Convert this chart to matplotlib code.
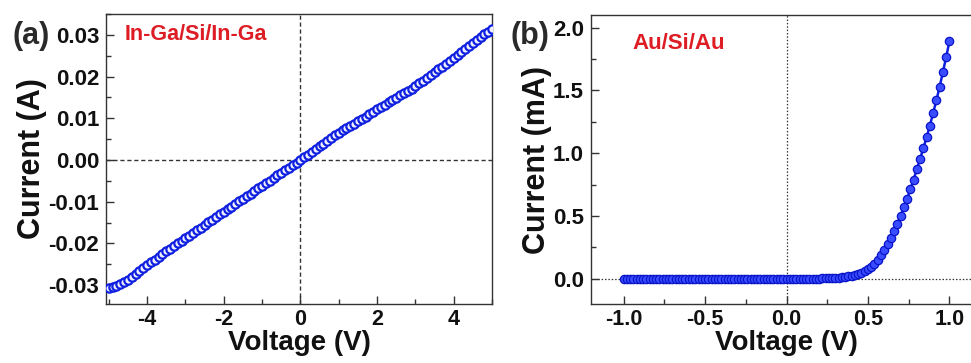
import numpy as np
import matplotlib
matplotlib.use("Agg")
import matplotlib.pyplot as plt
from matplotlib.ticker import MultipleLocator, FormatStrFormatter

plt.rcParams['font.family'] = ['Liberation Sans', 'DejaVu Sans']
plt.rcParams['font.weight'] = 'bold'

# ---------------- data ----------------
# panel (a): In-Ga/Si/In-Ga, sweep -5 V .. 5 V, 0.1 V step
volt_a = np.round(np.linspace(-5.0, 5.0, 101), 2)
current_a = [
    -0.0306, -0.0305, -0.0302, -0.0298, -0.0293, -0.0287, -0.0280, -0.0273, -0.0266, -0.0259,
    -0.0252, -0.0245, -0.0239, -0.0232, -0.0226, -0.0219, -0.0213, -0.0206, -0.0200, -0.0193,
    -0.0187, -0.0181, -0.0174, -0.0168, -0.0162, -0.0155, -0.0149, -0.0143, -0.0137, -0.0130,
    -0.0124, -0.0118, -0.0112, -0.0106, -0.0099, -0.0093, -0.0087, -0.0081, -0.0074, -0.0068,
    -0.0062, -0.0056, -0.0050, -0.0043, -0.0037, -0.0031, -0.0025, -0.0018, -0.0012, -0.0006,
    0.0000,
    0.0007, 0.0013, 0.0020, 0.0026, 0.0033, 0.0039, 0.0046, 0.0052, 0.0059, 0.0065,
    0.0071, 0.0076, 0.0082, 0.0087, 0.0093, 0.0099, 0.0104, 0.0110, 0.0116, 0.0122,
    0.0127, 0.0133, 0.0138, 0.0144, 0.0149, 0.0155, 0.0160, 0.0166, 0.0171, 0.0177,
    0.0184, 0.0190, 0.0197, 0.0204, 0.0211, 0.0217, 0.0224, 0.0231, 0.0238, 0.0245,
    0.0252, 0.0259, 0.0266, 0.0273, 0.0280, 0.0287, 0.0294, 0.0301, 0.0308, 0.0315,
]

# panel (b): Au/Si/Au, sweep -1 V .. 1 V, 0.02 V step (current in mA)
volt_b = np.round(np.linspace(-1.0, 1.0, 101), 3)
current_b = [0.0] * 51 + [
    0.000, 0.000, 0.000, 0.001, 0.001, 0.001, 0.001, 0.002, 0.002, 0.002,
    0.003, 0.004, 0.005, 0.006, 0.008, 0.010, 0.013, 0.016, 0.020, 0.025,
    0.031, 0.039, 0.048, 0.061, 0.077, 0.097, 0.122, 0.154, 0.189, 0.229,
    0.277, 0.325, 0.377, 0.436, 0.502, 0.569, 0.636, 0.715, 0.787, 0.875,
    0.955, 1.040, 1.127, 1.220, 1.320, 1.420, 1.530, 1.645, 1.765, 1.890,
]

label_a = "In-Ga/Si/In-Ga"
label_b = "Au/Si/Au"

# ---------------- figure ----------------
W, H = 971, 363
fig = plt.figure(figsize=(W / 100, H / 100), dpi=100)

def frac(x0, y0, x1, y1):
    return [x0 / W, 1 - y1 / H, (x1 - x0) / W, (y1 - y0) / H]

ax1 = fig.add_axes(frac(106, 14, 492, 304))
ax2 = fig.add_axes(frac(591, 15, 982, 304))

spine_c = '#333333'
txt_c = '#111111'
blue = '#1020e0'

for ax in (ax1, ax2):
    for s in ax.spines.values():
        s.set_color(spine_c)
        s.set_linewidth(1.0)
    ax.tick_params(which='both', direction='in', top=False, right=False,
                   colors=spine_c, labelcolor=txt_c, labelsize=16, width=1.0)
    ax.tick_params(which='major', length=6)
    ax.tick_params(which='minor', length=3.5)
    ax.tick_params(axis='x', pad=3.5, labelsize=15.5)
    ax.tick_params(axis='y', pad=5)
    for lab in ax.get_xticklabels() + ax.get_yticklabels():
        lab.set_fontweight('bold')

# panel (a)
ax1.axhline(0, color='#333333', lw=1.0, ls=(0, (3, 2)), zorder=1)
ax1.axvline(0, color='#333333', lw=1.0, ls=(0, (3, 2)), zorder=1)
ax1.plot(volt_a, current_a, ls='-', color=blue, lw=1.5, marker='o', ms=6,
         mfc='#eef0ff', mec=blue, mew=1.6, zorder=3)
ax1.set_xlim(-5.07, 5.0)
ax1.set_ylim(-0.0345, 0.035)
ax1.xaxis.set_major_locator(MultipleLocator(2))
ax1.xaxis.set_minor_locator(MultipleLocator(1))
ax1.yaxis.set_major_locator(MultipleLocator(0.01))
ax1.yaxis.set_minor_locator(MultipleLocator(0.005))
ax1.xaxis.set_major_formatter(FormatStrFormatter('%d'))
ax1.yaxis.set_major_formatter(FormatStrFormatter('%.2f'))
ax1.set_xlabel('Voltage (V)', fontsize=20, fontweight='bold', color=txt_c, labelpad=0)
ax1.set_ylabel('Current (A)', fontsize=22, fontweight='bold', color=txt_c, labelpad=1)
ax1.text(0.048, 0.928, label_a, transform=ax1.transAxes, color='#dd1c24',
         fontsize=15.5, fontweight='bold', va='center', ha='left')
fig.text(12 / W, 1 - 36 / H, '(a)', fontsize=22, fontweight='bold', color='#2a2a2a',
         va='center', ha='left')

# panel (b)
ax2.axhline(0, color='#333333', lw=0.9, ls=(0, (1.2, 1.5)), zorder=1)
ax2.axvline(0, color='#333333', lw=0.9, ls=(0, (1.2, 1.5)), zorder=1)
ax2.plot(volt_b, current_b, ls='-', color=blue, lw=1.8, marker='o', ms=6,
         mfc='#3a4cff', mec='#0a14c8', mew=0.9, zorder=3)
ax2.set_xlim(-1.2, 1.2)
ax2.set_ylim(-0.2, 2.1)
ax2.xaxis.set_major_locator(MultipleLocator(0.5))
ax2.xaxis.set_minor_locator(MultipleLocator(0.25))
ax2.yaxis.set_major_locator(MultipleLocator(0.5))
ax2.yaxis.set_minor_locator(MultipleLocator(0.25))
ax2.xaxis.set_major_formatter(FormatStrFormatter('%.1f'))
ax2.yaxis.set_major_formatter(FormatStrFormatter('%.1f'))
ax2.set_xlabel('Voltage (V)', fontsize=20, fontweight='bold', color=txt_c, labelpad=0)
ax2.set_ylabel('Current (mA)', fontsize=22, fontweight='bold', color=txt_c, labelpad=1)
ax2.text(0.105, 0.9, label_b, transform=ax2.transAxes, color='#dd1c24',
         fontsize=16, fontweight='bold', va='center', ha='left')
fig.text(511 / W, 1 - 36 / H, '(b)', fontsize=22, fontweight='bold', color='#2a2a2a',
         va='center', ha='left')

fig.savefig('out.png', dpi=100)
